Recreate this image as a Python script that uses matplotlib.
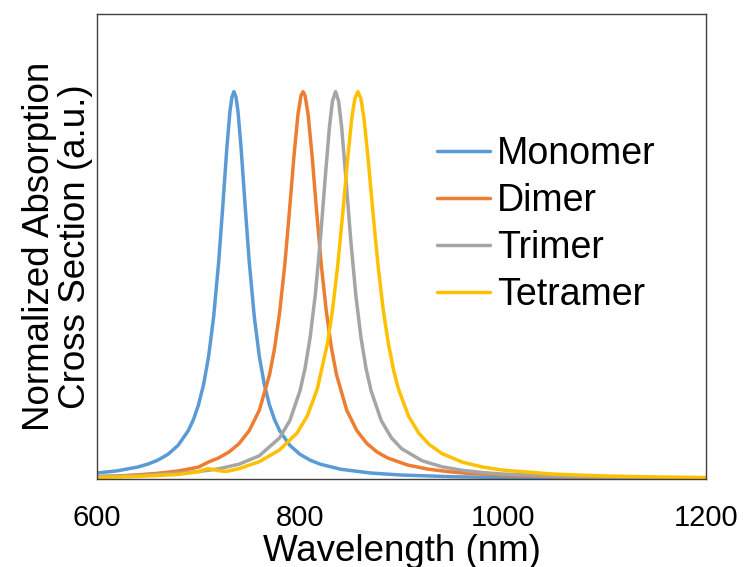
import matplotlib
matplotlib.use("Agg")
import matplotlib.pyplot as plt

# ---- data ----
mono_x = [600, 620, 640, 650, 660, 670, 680, 690, 695, 700, 705, 710, 715, 720, 724, 728, 731,
          733, 735, 737, 739, 742, 746, 750, 755, 760, 765, 770, 775, 780, 790, 800, 810, 820,
          840, 870, 900, 950, 1000, 1100, 1200]
mono_y = [0.0156, 0.0214, 0.031, 0.0385, 0.0489, 0.064, 0.0872, 0.125, 0.153, 0.191, 0.243,
          0.316, 0.419, 0.562, 0.705, 0.855, 0.948, 0.986, 1.0, 0.986, 0.948, 0.855, 0.705,
          0.562, 0.419, 0.316, 0.243, 0.191, 0.153, 0.125, 0.0872, 0.064, 0.0489, 0.0385,
          0.0255, 0.0156, 0.0105, 0.0062, 0.0041, 0.0022, 0.0013]

dimer_x = [600, 620, 640, 660, 680, 700, 710, 720, 730, 740, 750, 760, 770, 775, 780, 785, 790,
           794, 798, 801, 803, 805, 808, 812, 816, 821, 826, 831, 836, 846, 856, 866, 876, 886,
           906, 926, 946, 966, 1000, 1050, 1100, 1200]
dimer_y = [0.006, 0.008, 0.011, 0.015, 0.021, 0.031, 0.0442, 0.0549, 0.0698, 0.0916, 0.125,
           0.178, 0.269, 0.338, 0.431, 0.552, 0.703, 0.832, 0.941, 0.990, 1.0, 0.990, 0.941,
           0.832, 0.703, 0.552, 0.431, 0.338, 0.269, 0.178, 0.125, 0.0916, 0.0698, 0.0549,
           0.0363, 0.0258, 0.0192, 0.0148, 0.0102, 0.0065, 0.0045, 0.0025]

trimer_x = [600, 650, 700, 720, 740, 760, 780, 790, 800, 805, 810, 815, 820, 825, 829, 832, 835,
            838, 841, 845, 850, 855, 860, 865, 870, 880, 890, 900, 920, 940, 960, 980, 1000,
            1050, 1100, 1150, 1200]
trimer_y = [0.0065, 0.0104, 0.0194, 0.0266, 0.0385, 0.0603, 0.1066, 0.151, 0.228, 0.286, 0.366,
            0.474, 0.616, 0.783, 0.909, 0.976, 1.0, 0.976, 0.909, 0.783, 0.616, 0.474, 0.366,
            0.286, 0.228, 0.151, 0.1066, 0.0787, 0.0476, 0.0317, 0.0226, 0.0169, 0.0131,
            0.0078, 0.0051, 0.0036, 0.0027]

tetra_x = [600, 640, 680, 700, 709, 716, 722, 728, 740, 760, 780, 797, 807, 817, 827, 832, 837,
           842, 847, 851, 854, 857, 860, 863, 867, 872, 877, 882, 887, 892, 897, 907, 917, 927,
           940, 960, 980, 1000, 1050, 1100, 1150, 1200]
tetra_y = [0.004, 0.007, 0.012, 0.019, 0.027, 0.024, 0.021, 0.020, 0.027, 0.045, 0.0755,
           0.1185, 0.162, 0.232, 0.350, 0.436, 0.548, 0.683, 0.829, 0.931, 0.982, 1.0, 0.982,
           0.931, 0.829, 0.683, 0.548, 0.436, 0.350, 0.283, 0.232, 0.162, 0.1185, 0.0899,
           0.0657, 0.0436, 0.031, 0.0231, 0.0128, 0.0081, 0.0056, 0.0041]

labels = ["Monomer", "Dimer", "Trimer", "Tetramer"]
colors = ["#5B9BD5", "#ED7D31", "#A5A5A5", "#FFC000"]
xticks = [600, 800, 1000, 1200]

plt.rcParams['font.family'] = ['Liberation Sans', 'DejaVu Sans']

fig = plt.figure(figsize=(7.45, 5.67), dpi=100)
ax = fig.add_axes([0.130, 0.155, 0.818, 0.820])

series = [(mono_x, mono_y), (dimer_x, dimer_y), (trimer_x, trimer_y), (tetra_x, tetra_y)]
for (xs, ys), lab, c in zip(series, labels, colors):
    ax.plot(xs, ys, color=c, lw=2.5, label=lab, solid_capstyle='round', solid_joinstyle='round')

ax.set_xlim(600, 1200)
ax.set_ylim(0, 1.2)
ax.set_xticks(xticks)
ax.set_xticklabels([str(t) for t in xticks], fontsize=21)
ax.set_yticks([])
ax.tick_params(axis='x', length=0, pad=18)
for s in ax.spines.values():
    s.set_color('#404040')
    s.set_linewidth(1.0)

ax.set_xlabel("Wavelength (nm)", fontsize=26.5, labelpad=1)
ax.set_ylabel("Normalized Absorption\nCross Section (a.u.)", fontsize=26.5, labelpad=3,
              linespacing=1.02)

leg = ax.legend(loc='upper left', bbox_to_anchor=(0.558, 0.737), frameon=False, fontsize=27,
                handlelength=1.41, handletextpad=0.19, labelspacing=0.29, borderaxespad=0,
                borderpad=0)

fig.savefig("out.png", dpi=100)
